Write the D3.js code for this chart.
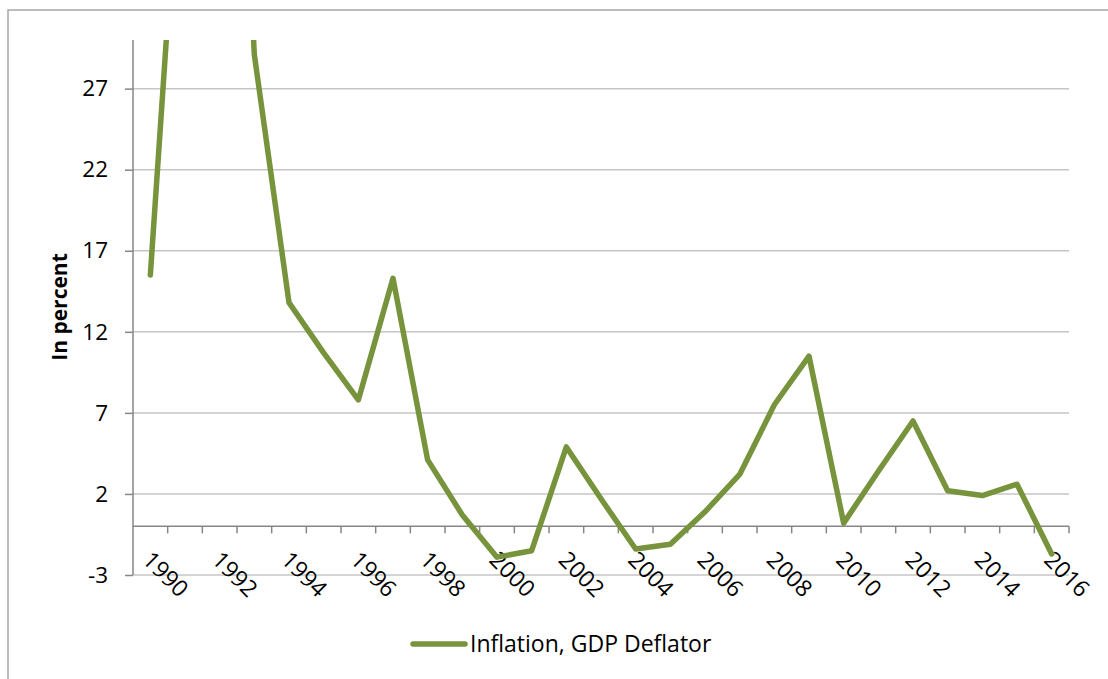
<!DOCTYPE html>
<html>
<head>
<meta charset="utf-8">
<script src="https://cdn.jsdelivr.net/npm/d3@7"></script>
<style>
  body { margin: 0; background: #fff; }
  svg { display: block; font-family: "Open Sans", sans-serif; }
</style>
</head>
<body>
<svg id="chart" width="1108" height="679"></svg>
<script>
// data (1991 and 1992 run off the top of the plot)
var years = d3.range(1990, 2017);
var deflator = [15.5, 47, 70, 29.1, 13.8, 10.7, 7.8, 15.3, 4.1, 0.7,
                -1.9, -1.5, 4.9, 1.7, -1.4, -1.1, 0.9, 3.2, 7.5, 10.5,
                0.2, 3.4, 6.5, 2.2, 1.9, 2.6, -1.7];
var yTicks = [-3, 2, 7, 12, 17, 22, 27];
var xLabels = years.filter(function(d) { return (d - 1990) % 2 === 0; });
var seriesName = "Inflation, GDP Deflator";

var svg = d3.select("#chart");

// plot box (note: "top" is taken by window.top, so prefixed names)
var plotLeft = 133, plotRight = 1069, plotTop = 40, plotBottom = 575;
var green = "#77933c", axisGray = "#868686", gridGray = "#c6c6c6";

var x = d3.scaleBand().domain(years).range([plotLeft, plotRight]).padding(0);
var y = d3.scaleLinear().domain([-3, 30]).range([plotBottom, plotTop]);

// outer chart frame (runs past the right and bottom edge)
svg.append("rect")
  .attr("x", 8).attr("y", 10)
  .attr("width", 1120).attr("height", 700)
  .attr("fill", "none")
  .attr("stroke", "#a6a6a6")
  .attr("stroke-width", 1.5);

// horizontal gridlines
svg.append("g").selectAll("line")
  .data(yTicks)
  .join("line")
    .attr("x1", plotLeft).attr("x2", plotRight)
    .attr("y1", function(d) { return y(d); })
    .attr("y2", function(d) { return y(d); })
    .attr("stroke", gridGray)
    .attr("stroke-width", 1.5);

// y axis, plain hyphen for negatives like the original
var yAxis = svg.append("g")
  .attr("transform", "translate(" + plotLeft + ",0)")
  .call(d3.axisLeft(y).tickValues(yTicks).tickSize(8).tickPadding(17).tickSizeOuter(0)
    .tickFormat(function(d) { return String(d); }));
yAxis.select(".domain").remove();
yAxis.selectAll(".tick line").attr("stroke", axisGray).attr("stroke-width", 1.5);
yAxis.selectAll(".tick text")
  .attr("fill", "#000")
  .style("font-size", "22.5px")
  .style("font-family", "'Open Sans', sans-serif");
svg.append("line")
  .attr("x1", plotLeft).attr("x2", plotLeft)
  .attr("y1", plotTop).attr("y2", plotBottom)
  .attr("stroke", axisGray).attr("stroke-width", 1.5);

// x axis at zero, ticks sit between categories
var zeroY = y(0);
svg.append("line")
  .attr("x1", plotLeft).attr("x2", plotRight)
  .attr("y1", zeroY).attr("y2", zeroY)
  .attr("stroke", axisGray).attr("stroke-width", 1.5);
svg.append("g").selectAll("line")
  .data(years.slice(1).concat(["end"]))
  .join("line")
    .attr("x1", function(d) { return d === "end" ? plotRight : x(d); })
    .attr("x2", function(d) { return d === "end" ? plotRight : x(d); })
    .attr("y1", zeroY).attr("y2", zeroY + 7)
    .attr("stroke", axisGray).attr("stroke-width", 1.5);

// rotated year labels
svg.append("g").selectAll("text")
  .data(xLabels)
  .join("text")
    .attr("transform", function(d) {
      var cx = x(d) + x.bandwidth() / 2;
      return "translate(" + (cx - 9) + "," + (zeroY + 35) + ") rotate(45)";
    })
    .attr("text-anchor", "start")
    .attr("font-size", 23)
    .attr("fill", "#000")
    .text(function(d) { return d; });

// y axis title
svg.append("text")
  .attr("transform", "translate(67,307) rotate(-90)")
  .attr("text-anchor", "middle")
  .attr("font-size", 21)
  .attr("font-weight", "bold")
  .attr("fill", "#000")
  .text("In percent");

// the series, clipped to the plot area
svg.append("clipPath").attr("id", "plot-clip")
  .append("rect")
    .attr("x", plotLeft - 10).attr("y", plotTop)
    .attr("width", plotRight - plotLeft + 20).attr("height", plotBottom - plotTop + 20);

var line = d3.line()
  .x(function(d, i) { return x(years[i]) + x.bandwidth() / 2; })
  .y(function(d) { return y(d); });

svg.append("path")
  .datum(deflator)
  .attr("clip-path", "url(#plot-clip)")
  .attr("d", line)
  .attr("fill", "none")
  .attr("stroke", green)
  .attr("stroke-width", 5.5)
  .attr("stroke-linejoin", "round")
  .attr("stroke-linecap", "round");

// legend
svg.append("line")
  .attr("x1", 413).attr("x2", 465)
  .attr("y1", 644).attr("y2", 644)
  .attr("stroke", green)
  .attr("stroke-width", 5.5)
  .attr("stroke-linecap", "round");
svg.append("text")
  .attr("x", 470).attr("y", 652)
  .attr("font-size", 23)
  .attr("fill", "#000")
  .text(seriesName);
</script>
</body>
</html>
